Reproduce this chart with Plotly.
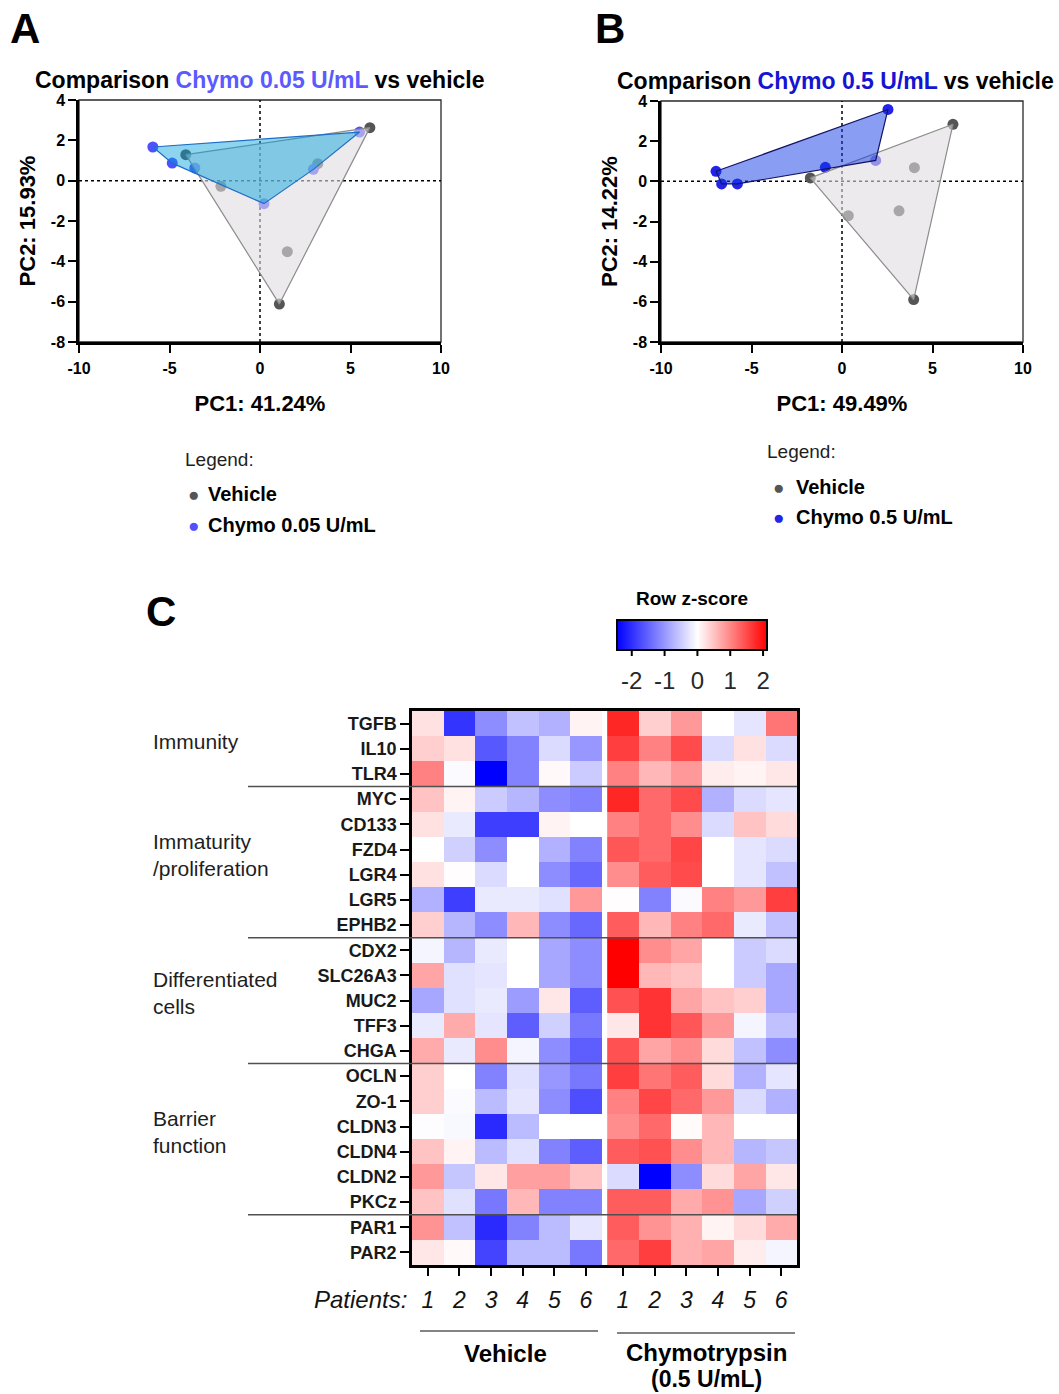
import plotly.graph_objects as go

W, H = 1059, 1394
def px(x): return x / W
def py(y): return 1 - y / H

FONT = "Arial, Liberation Sans, sans-serif"

# ---------------- PCA data ----------------
pcaA_vehicle_pc1 = [6.07, -4.10, 1.07, -2.16, 1.51, 3.19]
pcaA_vehicle_pc2 = [2.63, 1.29, -6.12, -0.28, -3.52, 0.84]
pcaA_chymo_pc1 = [-5.92, -4.85, -3.60, 0.22, 2.95, 5.50]
pcaA_chymo_pc2 = [1.67, 0.87, 0.63, -1.14, 0.56, 2.41]

pcaB_vehicle_pc1 = [-1.75, 6.13, 3.96, 0.35, 3.15, 4.00]
pcaB_vehicle_pc2 = [0.17, 2.84, -5.89, -1.71, -1.47, 0.68]
pcaB_chymo_pc1 = [-6.96, -6.65, -5.78, -0.92, 1.86, 2.54]
pcaB_chymo_pc2 = [0.50, -0.13, -0.13, 0.70, 1.04, 3.58]

pc_ticks_x = [-10, -5, 0, 5, 10]
pc_ticks_y = [-8, -6, -4, -2, 0, 2, 4]

# ---------------- Heatmap data ----------------
genes = ["TGFB", "IL10", "TLR4", "MYC", "CD133", "FZD4", "LGR4", "LGR5", "EPHB2",
         "CDX2", "SLC26A3", "MUC2", "TFF3", "CHGA", "OCLN", "ZO-1", "CLDN3",
         "CLDN4", "CLDN2", "PKCz", "PAR1", "PAR2"]
patients = ["1", "2", "3", "4", "5", "6"]

vehicle_z = [
    [0.25, -1.95, -1.10, -0.60, -0.75, 0.10],
    [0.40, 0.25, -1.60, -1.20, -0.35, -1.00],
    [1.05, -0.05, -2.45, -1.20, 0.05, -0.50],
    [0.50, 0.10, -0.50, -0.70, -1.10, -1.20],
    [0.25, -0.20, -1.85, -1.85, 0.10, 0.00],
    [0.00, -0.45, -1.10, 0.00, -0.75, -1.20],
    [0.25, 0.02, -0.35, 0.00, -1.10, -1.45],
    [-0.75, -1.85, -0.20, -0.20, -0.30, 0.85],
    [0.40, -0.70, -1.10, 0.60, -1.10, -1.45],
    [-0.10, -0.70, -0.20, 0.00, -0.85, -1.10],
    [0.75, -0.30, -0.25, 0.00, -0.85, -1.10],
    [-0.85, -0.30, -0.20, -0.95, 0.20, -1.55],
    [-0.20, 0.70, -0.25, -1.55, -0.45, -1.30],
    [0.70, -0.20, 0.95, -0.10, -1.10, -1.55],
    [0.40, 0.00, -1.20, -0.30, -1.00, -1.30],
    [0.40, -0.05, -0.65, -0.25, -1.10, -1.70],
    [-0.02, -0.07, -2.05, -0.65, 0.00, 0.00],
    [0.50, 0.10, -0.65, -0.30, -1.20, -1.55],
    [0.85, -0.55, 0.20, 0.80, 0.80, 0.50],
    [0.50, -0.30, -1.30, 0.60, -1.20, -1.20],
    [0.90, -0.60, -2.05, -1.20, -0.65, -0.25],
    [0.20, 0.05, -1.80, -0.65, -0.65, -1.30],
]
chymo_z = [
    [1.80, 0.40, 0.85, 0.00, -0.25, 1.15],
    [1.60, 1.05, 1.50, -0.35, 0.25, -0.35],
    [1.05, 0.60, 0.85, 0.15, 0.10, 0.20],
    [1.80, 1.25, 1.50, -0.75, -0.35, -0.25],
    [1.05, 1.25, 0.95, -0.35, 0.50, 0.30],
    [1.40, 1.25, 1.55, 0.00, -0.25, -0.35],
    [0.95, 1.35, 1.50, 0.00, -0.25, -0.60],
    [0.02, -1.20, -0.05, 1.05, 0.85, 1.60],
    [1.35, 0.60, 1.05, 1.25, -0.20, -0.60],
    [2.12, 0.95, 0.75, 0.00, -0.50, -0.35],
    [2.12, 0.60, 0.50, 0.00, -0.50, -0.85],
    [1.45, 1.70, 0.75, 0.50, 0.40, -0.85],
    [0.20, 1.70, 1.40, 0.85, -0.10, -0.60],
    [1.45, 0.75, 0.95, 0.30, -0.60, -1.10],
    [1.60, 1.15, 1.35, 0.30, -0.75, -0.25],
    [1.05, 1.55, 1.25, 0.85, -0.35, -0.75],
    [0.95, 1.25, 0.03, 0.60, 0.00, 0.00],
    [1.35, 1.45, 0.95, 0.60, -0.70, -0.55],
    [-0.35, -2.45, -1.10, 0.30, 0.75, 0.20],
    [1.35, 1.35, 0.70, 0.90, -0.85, -0.45],
    [1.35, 0.90, 0.65, 0.10, 0.30, 0.70],
    [1.25, 1.60, 0.65, 0.75, 0.15, -0.10],
]
zscore_ticks = [-2, -1, 0, 1, 2]
ZMIN, ZMAX = -2.45, 2.12
group_labels = ["Immunity", "Immaturity<br>/proliferation", "Differentiated<br>cells", "Barrier<br>function"]
group_sizes = [3, 6, 5, 6, 2]

# ---------------- helpers ----------------
def convex_hull(xs, ys):
    pts = sorted(set(zip(xs, ys)))
    def cross(o, a, b):
        return (a[0] - o[0]) * (b[1] - o[1]) - (a[1] - o[1]) * (b[0] - o[0])
    lower, upper = [], []
    for p in pts:
        while len(lower) >= 2 and cross(lower[-2], lower[-1], p) <= 0:
            lower.pop()
        lower.append(p)
    for p in reversed(pts):
        while len(upper) >= 2 and cross(upper[-2], upper[-1], p) <= 0:
            upper.pop()
        upper.append(p)
    h = lower[:-1] + upper[:-1]
    h.append(h[0])
    return [p[0] for p in h], [p[1] for p in h]

C_VEH = "rgb(85,85,85)"
C_A = "rgb(80,80,255)"
C_B = "rgb(35,35,235)"

fig = go.Figure()

def add_pca(xa, ya, vx, vy, cx, cy, ccol, cfill, cline):
    fig.add_trace(go.Scatter(x=vx, y=vy, mode="markers", xaxis=xa, yaxis=ya,
                             marker=dict(size=11, color=C_VEH), showlegend=False))
    fig.add_trace(go.Scatter(x=cx, y=cy, mode="markers", xaxis=xa, yaxis=ya,
                             marker=dict(size=11, color=ccol), showlegend=False))
    hx, hy = convex_hull(vx, vy)
    fig.add_trace(go.Scatter(x=hx, y=hy, mode="lines", fill="toself", xaxis=xa, yaxis=ya,
                             fillcolor="rgba(224,220,224,0.6)",
                             line=dict(color="rgb(140,140,140)", width=1.2), showlegend=False,
                             hoverinfo="skip"))
    hx, hy = convex_hull(cx, cy)
    fig.add_trace(go.Scatter(x=hx, y=hy, mode="lines", fill="toself", xaxis=xa, yaxis=ya,
                             fillcolor=cfill, line=dict(color=cline, width=1.2),
                             showlegend=False, hoverinfo="skip"))

add_pca("x", "y", pcaA_vehicle_pc1, pcaA_vehicle_pc2, pcaA_chymo_pc1, pcaA_chymo_pc2,
        C_A, "rgba(0,160,220,0.45)", "rgb(30,110,200)")
add_pca("x2", "y2", pcaB_vehicle_pc1, pcaB_vehicle_pc2, pcaB_chymo_pc1, pcaB_chymo_pc2,
        C_B, "rgba(20,60,230,0.5)", "rgb(20,20,100)")

# heatmap
GAP = 0.17
veh_x = [i for i in range(len(patients))]
chy_x = [len(patients) + GAP + i for i in range(len(patients))]
rows = list(range(len(genes)))
fig.add_trace(go.Heatmap(z=vehicle_z, x=veh_x, y=rows, coloraxis="coloraxis",
                         xaxis="x3", yaxis="y3"))
fig.add_trace(go.Heatmap(z=chymo_z, x=chy_x, y=rows, coloraxis="coloraxis",
                         xaxis="x3", yaxis="y3"))

bold = dict(family=FONT, color="black", weight="bold")

def pca_axes(dx, dy, xtitle, ytitle, anchor_x, anchor_y):
    xa = dict(domain=dx, range=[-10, 10], tickvals=pc_ticks_x, ticktext=[str(v) for v in pc_ticks_x],
              ticks="outside", ticklen=8, automargin=False,
              tickwidth=2, tickcolor="black", showline=True, linewidth=2.5, linecolor="black",
              showgrid=False, zeroline=False, anchor=anchor_y, ticklabelstandoff=2,
              tickfont=dict(size=16, **bold),
              title=dict(text=xtitle, font=dict(size=22, **bold), standoff=20))
    ya = dict(domain=dy, range=[-8, 4], tickvals=pc_ticks_y, ticktext=[str(v) for v in pc_ticks_y],
              ticks="outside", ticklen=8, automargin=False,
              tickwidth=2, tickcolor="black", showline=True, linewidth=2.5, linecolor="black",
              showgrid=False, zeroline=False, anchor=anchor_x,
              tickfont=dict(size=16, **bold),
              title=dict(text=ytitle, font=dict(size=22, **bold), standoff=10))
    return xa, ya

xa1, ya1 = pca_axes([px(79), px(441)], [py(342), py(100)], "PC1: 41.24%", "PC2: 15.93%", "x", "y")
xa2, ya2 = pca_axes([px(661), px(1023)], [py(342), py(101)], "PC1: 49.49%", "PC2: 14.22%", "x2", "y2")

fig.update_layout(
    width=W, height=H, margin=dict(l=0, r=0, t=0, b=0, pad=0),
    paper_bgcolor="white", plot_bgcolor="white",
    font=dict(family=FONT, color="black"),
    showlegend=False,
    xaxis=xa1, yaxis=ya1, xaxis2=xa2, yaxis2=ya2,
    xaxis3=dict(domain=[px(412), px(797)], range=[-0.5, len(patients) * 2 - 0.5 + GAP],
                anchor="y3", tickvals=veh_x + chy_x, ticktext=patients + patients,
                ticks="outside", ticklen=8, tickwidth=2, tickcolor="black", automargin=False,
                showline=True, mirror=True, linewidth=2.5, linecolor="black",
                showgrid=False, zeroline=False, ticklabelstandoff=5,
                tickfont=dict(family=FONT, size=23, color="rgb(20,20,20)", style="italic")),
    yaxis3=dict(domain=[py(1265), py(711)], range=[len(genes) - 0.5, -0.5], anchor="x3",
                tickvals=rows, ticktext=genes, ticks="outside", ticklen=9, tickwidth=2,
                tickcolor="black", showline=True, mirror=True, linewidth=2.5, automargin=False,
                linecolor="black", showgrid=False, zeroline=False,
                tickfont=dict(size=18, family=FONT, color="rgb(25,25,25)", weight="bold")),
    coloraxis=dict(
        colorscale=[[0, "rgb(0,0,255)"], [-ZMIN / (ZMAX - ZMIN), "rgb(255,255,255)"], [1, "rgb(255,0,0)"]],
        cmin=ZMIN, cmax=ZMAX,
        colorbar=dict(orientation="h", x=px(692), xanchor="center", y=py(599), yanchor="top",
                      lenmode="pixels", len=150, thickness=30, outlinewidth=2, xpad=0, ypad=0,
                      outlinecolor="black", ticks="outside", ticklen=10, tickwidth=1,
                      tickcolor="rgba(0,0,0,0)", tickvals=zscore_ticks,
                      ticktext=[str(v) for v in zscore_ticks],
                      tickfont=dict(family=FONT, size=24, color="rgb(40,40,40)"),
                      title=dict(text="Row z-score", side="top",
                                 font=dict(size=19, **bold)))),
)

# inner tick marks on colorbar (top and bottom edges)
CB_L, CB_R, CB_T, CB_B = 617, 767, 626, 656
for v in zscore_ticks:
    xt = CB_L + (v - ZMIN) / (ZMAX - ZMIN) * (CB_R - CB_L)
    for y0, y1 in [(CB_T, CB_T + 5), (CB_B - 5, CB_B)]:
        fig.add_shape(type="line", xref="paper", yref="paper", x0=px(xt), x1=px(xt),
                      y0=py(y0), y1=py(y1), line=dict(color="black", width=2))

# frames (top/right thin lines) and zero dotted lines for PCA panels
for xr, yr in [("x", "y"), ("x2", "y2")]:
    fig.add_shape(type="rect", xref=f"{xr} domain", yref=f"{yr} domain", x0=0, x1=1, y0=0, y1=1,
                  line=dict(color="rgb(40,40,40)", width=1.3), layer="below")
    fig.add_shape(type="line", xref=xr, yref=f"{yr} domain", x0=0, x1=0, y0=0, y1=1,
                  line=dict(color="black", width=1.5, dash="dot"), layer="below")
    fig.add_shape(type="line", xref=f"{xr} domain", yref=yr, x0=0, x1=1, y0=0, y1=0,
                  line=dict(color="black", width=1.5, dash="dot"), layer="below")

# heatmap group separators
b = 0
for s in group_sizes[:-1]:
    b += s
    fig.add_shape(type="line", xref="paper", yref="y3", x0=px(248), x1=px(797),
                  y0=b - 0.5, y1=b - 0.5, line=dict(color="rgb(80,80,80)", width=1.5))

# group labels
b = 0
for lab, s in zip(group_labels, group_sizes):
    fig.add_annotation(text=lab, xref="paper", yref="y3", x=px(151), y=b + (s - 1) / 2 - 0.3,
                       xanchor="left", yanchor="middle", align="left", showarrow=False,
                       font=dict(family=FONT, size=21, color="rgb(30,30,30)"))
    b += s

def ann(text, x, y, size, weight="normal", color="black", xanchor="center", style="normal", **kw):
    fig.add_annotation(text=text, xref="paper", yref="paper", x=px(x), y=py(y),
                       xanchor=xanchor, yanchor="middle", showarrow=False,
                       font=dict(family=FONT, size=size, color=color, weight=weight, style=style), **kw)

# panel letters
ann("A", 25, 28, 42, "bold")
ann("B", 610, 28, 42, "bold")
ann("C", 161, 612, 42, "bold")

# titles
ann("Comparison <span style='color:#5a5aff'>Chymo 0.05 U/mL</span> vs vehicle", 260, 80, 23, "bold")
ann("Comparison <span style='color:#1414d2'>Chymo 0.5 U/mL</span> vs vehicle", 835, 81, 23, "bold")

# legends
ann("Legend:", 183, 460, 19, xanchor="left", color="rgb(30,30,30)")
ann("●", 186, 494, 19, color=C_VEH, xanchor="left")
ann("Vehicle", 206, 494, 20, "bold", xanchor="left")
ann("●", 186, 525, 19, color=C_A, xanchor="left")
ann("Chymo 0.05 U/mL", 206, 525, 20, "bold", xanchor="left")

ann("Legend:", 765, 452, 19, xanchor="left", color="rgb(30,30,30)")
ann("●", 771, 487, 19, color=C_VEH, xanchor="left")
ann("Vehicle", 794, 487, 20, "bold", xanchor="left")
ann("●", 771, 517, 19, color=C_B, xanchor="left")
ann("Chymo 0.5 U/mL", 794, 517, 20, "bold", xanchor="left")

# heatmap bottom labels
ann("Patients:", 409, 1299, 24, xanchor="right", style="italic", color="rgb(20,20,20)")
ann("Vehicle", 505, 1353, 24, "bold")
ann("Chymotrypsin", 706, 1352, 24, "bold")
ann("(0.5 U/mL)", 706, 1379, 23, "bold")
fig.add_shape(type="line", xref="paper", yref="paper", x0=px(420), x1=px(598), y0=py(1331), y1=py(1331),
              line=dict(color="rgb(90,90,90)", width=1.5))
fig.add_shape(type="line", xref="paper", yref="paper", x0=px(617), x1=px(795), y0=py(1333), y1=py(1333),
              line=dict(color="rgb(90,90,90)", width=1.5))

fig.write_html("out.html", config={"displayModeBar": False},
               post_script="document.body.style.margin='0';")
